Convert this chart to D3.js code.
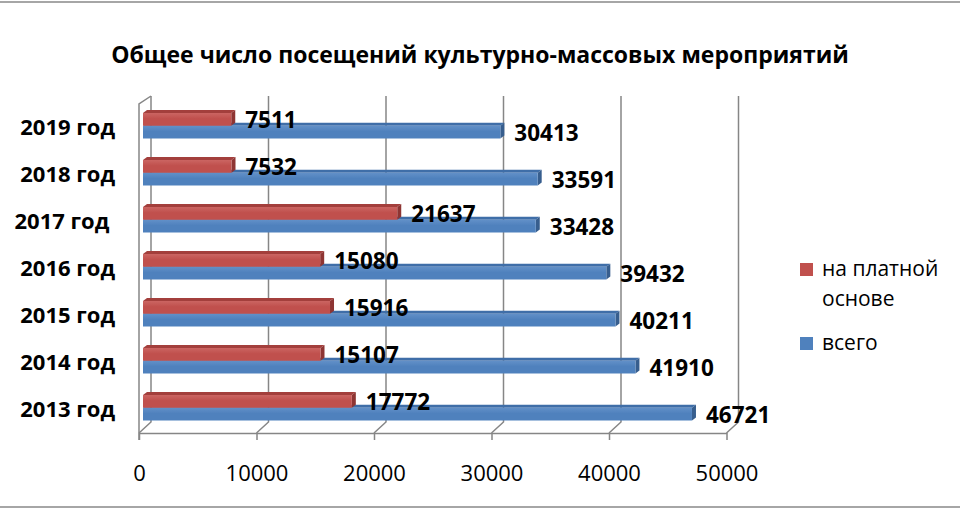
<!DOCTYPE html>
<html><head><meta charset="utf-8">
<script src="https://cdn.jsdelivr.net/npm/d3@7"></script>
<style>
html,body{margin:0;padding:0;background:#fff;}
svg{display:block;font-family:"Open Sans",sans-serif;}
</style></head>
<body>
<svg id="c" width="960" height="510"></svg>
<script>
const title = "Общее число посещений культурно-массовых мероприятий";
const years = ["2013 год","2014 год","2015 год","2016 год","2017 год ","2018 год","2019 год"];
const paid  = [17772,15107,15916,15080,21637,7532,7511];
const total = [46721,41910,40211,39432,33428,33591,30413];
const seriesNames = ["на платной основе","всего"];
const legendLines = [["на платной","основе"],["всего"]];
const tickValues = [0,10000,20000,30000,40000,50000];

const svg = d3.select("#c");
const W = 960, H = 510;

// frame
svg.append("line").attr("x1",0).attr("x2",W).attr("y1",2).attr("y2",2).attr("stroke","#a6a6a6").attr("stroke-width",2);
svg.append("line").attr("x1",0).attr("x2",W).attr("y1",507).attr("y2",507).attr("stroke","#a6a6a6").attr("stroke-width",2);

// title
svg.append("text").attr("x",480).attr("y",63).attr("text-anchor","middle")
  .attr("font-size",23).attr("font-weight","bold").attr("fill","#000").text(title);

// scales
const xFront = d3.scaleLinear().domain([0,50000]).range([139, 726.5]);
const backDX = 12, floorFront = 433, floorBack = 422, wallTop = 96, wallTopFront = 104;
const barOff = 4;
const y = d3.scalePoint().domain(years.slice().reverse()).range([125, 407]);
const sub = d3.scaleBand().domain(["paid","total"]).range([-12, 13.5]);

const grid = "#868686";
const g = svg.append("g");
g.selectAll("path.grid").data(tickValues).enter().append("path")
  .attr("class","grid")
  .attr("d", v => `M${xFront(v)+backDX},${wallTop}V${floorBack}L${xFront(v)},${floorFront}`)
  .attr("fill","none").attr("stroke",grid).attr("stroke-width",1.5);
g.append("path")
  .attr("d", `M${xFront(0)},${floorFront+7}V${wallTopFront}L${xFront(0)+backDX},${wallTop}`)
  .attr("fill","none").attr("stroke",grid).attr("stroke-width",1.5);

// axis
const axis = d3.axisBottom(xFront).tickValues(tickValues).tickSize(7).tickSizeOuter(0).tickPadding(25)
  .tickFormat(d3.format("d"));
const ax = svg.append("g").attr("transform",`translate(0,${floorFront})`).call(axis);
ax.attr("font-family","'Open Sans',sans-serif").attr("font-size",22);
ax.select(".domain").attr("stroke",grid).attr("stroke-width",1.5);
ax.selectAll(".tick line").attr("stroke",grid).attr("stroke-width",1.5);
ax.selectAll(".tick text").attr("fill","#000");

// bars
const dx = 4, dy = 3;
const colors = {
  paid:  {front:"#C0504D", top:"#A33F3C", side:"#8E3533", light:"#CB6562"},
  total: {front:"#4F81BD", top:"#3F6EA8", side:"#375E8E", light:"#6290C8"}
};
const defs = svg.append("defs");
Object.entries(colors).forEach(([k,c]) => {
  const lg = defs.append("linearGradient").attr("id","gr_"+k).attr("x1",0).attr("x2",0).attr("y1",0).attr("y2",1);
  lg.append("stop").attr("offset","0%").attr("stop-color",c.light);
  lg.append("stop").attr("offset","45%").attr("stop-color",c.front);
  lg.append("stop").attr("offset","100%").attr("stop-color",c.front);
});

const xBar = v => xFront(v) + barOff;
function bar3d(sel, key, vals) {
  const c = colors[key];
  const data = years.map((yr,i)=>({yr, v: vals[i]}));
  const gg = sel.append("g");
  data.forEach(d => {
    const x0 = xBar(0), x1 = xBar(d.v);
    const y0 = y(d.yr) + sub(key), y1 = y0 + sub.bandwidth();
    gg.append("polygon").attr("points",`${x0},${y0} ${x0+dx},${y0-dy} ${x1+dx},${y0-dy} ${x1},${y0}`).attr("fill",c.top);
    gg.append("polygon").attr("points",`${x1},${y0} ${x1+dx},${y0-dy} ${x1+dx},${y1-dy} ${x1},${y1}`).attr("fill",c.side);
    gg.append("rect").attr("x",x0).attr("y",y0).attr("width",x1-x0).attr("height",y1-y0).attr("fill",`url(#gr_${key})`);
  });
}
bar3d(svg, "total", total);
bar3d(svg, "paid", paid);

// data labels
const lab = svg.append("g").attr("font-size",22.5).attr("font-weight","bold").attr("fill","#000");
years.forEach((yr,i) => {
  lab.append("text").attr("x", xBar(paid[i])+dx+10).attr("y", y(yr)+3).text(paid[i]);
  lab.append("text").attr("x", xBar(total[i])+dx+10).attr("y", y(yr)+16).text(total[i]);
});

// category labels
svg.append("g").selectAll("text").data(years).enter().append("text")
  .attr("x",115).attr("y",d=>y(d)+10).attr("text-anchor","end")
  .attr("font-size",22).attr("font-weight","bold").attr("fill","#000")
  .style("white-space","pre").text(d=>d);

// legend
const leg = svg.append("g");
const legY = [263, 337];
["paid","total"].forEach((k,i) => {
  leg.append("rect").attr("x",800).attr("y",legY[i]).attr("width",13).attr("height",13).attr("fill",colors[k].front);
  legendLines[i].forEach((ln,j) => {
    leg.append("text").attr("x",822).attr("y",legY[i]+13+j*30).attr("font-size",21).attr("fill","#000").text(ln);
  });
});
</script>
</body></html>
